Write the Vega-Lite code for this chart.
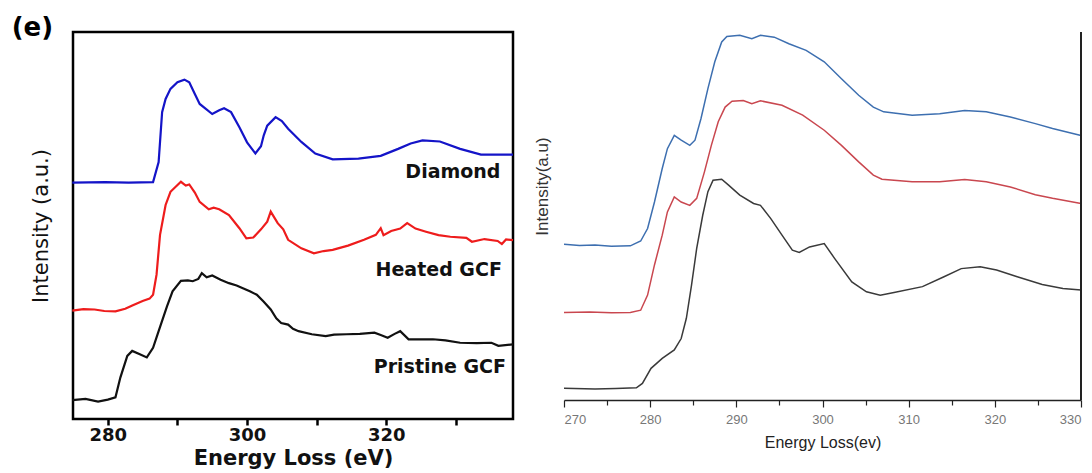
{
  "$schema": "https://vega.github.io/schema/vega-lite/v6.json",
  "background": "white",
  "padding": {"left": 10, "top": 13, "right": 0, "bottom": 0},
  "autosize": {"type": "pad"},
  "bounds": "flush",
  "spacing": 51,
  "config": {"font": "DejaVu Sans", "axis": {"grid": false}},
  "resolve": {"scale": {"x": "independent", "y": "independent", "color": "independent"}},
  "datasets": {
    "left": [
      {"series": "Diamond", "E": 274.9, "I": 61.1}, {"series": "Diamond", "E": 279.6, "I": 61.2}, {"series": "Diamond", "E": 283, "I": 61.1}, {"series": "Diamond", "E": 286.5, "I": 61.2},
      {"series": "Diamond", "E": 287.3, "I": 66.4}, {"series": "Diamond", "E": 287.8, "I": 79.3}, {"series": "Diamond", "E": 288.3, "I": 82.7}, {"series": "Diamond", "E": 289.0, "I": 85.3},
      {"series": "Diamond", "E": 290.0, "I": 87.0}, {"series": "Diamond", "E": 291.0, "I": 87.7}, {"series": "Diamond", "E": 291.7, "I": 87.0}, {"series": "Diamond", "E": 292.5, "I": 84.0},
      {"series": "Diamond", "E": 293.2, "I": 81.4}, {"series": "Diamond", "E": 295.0, "I": 78.8}, {"series": "Diamond", "E": 296.0, "I": 79.8}, {"series": "Diamond", "E": 296.7, "I": 80.3},
      {"series": "Diamond", "E": 297.7, "I": 79.3}, {"series": "Diamond", "E": 298.9, "I": 75.4}, {"series": "Diamond", "E": 300.0, "I": 71.5}, {"series": "Diamond", "E": 301.2, "I": 68.6},
      {"series": "Diamond", "E": 302.0, "I": 70.5}, {"series": "Diamond", "E": 302.4, "I": 73.3}, {"series": "Diamond", "E": 302.9, "I": 75.8}, {"series": "Diamond", "E": 304.1, "I": 78.0},
      {"series": "Diamond", "E": 305.0, "I": 77.0}, {"series": "Diamond", "E": 305.9, "I": 75.0}, {"series": "Diamond", "E": 307.8, "I": 71.6}, {"series": "Diamond", "E": 309.8, "I": 68.6},
      {"series": "Diamond", "E": 312.3, "I": 67.1}, {"series": "Diamond", "E": 316, "I": 67.3}, {"series": "Diamond", "E": 319.2, "I": 68.0}, {"series": "Diamond", "E": 321.7, "I": 69.8},
      {"series": "Diamond", "E": 323.5, "I": 71.2}, {"series": "Diamond", "E": 325.2, "I": 72.0}, {"series": "Diamond", "E": 327.7, "I": 71.7}, {"series": "Diamond", "E": 330.6, "I": 69.8},
      {"series": "Diamond", "E": 333.6, "I": 68.3}, {"series": "Diamond", "E": 338.2, "I": 68.3},
      {"series": "Heated GCF", "E": 274.9, "I": 28.0}, {"series": "Heated GCF", "E": 276.5, "I": 28.4}, {"series": "Heated GCF", "E": 278.1, "I": 28.3}, {"series": "Heated GCF", "E": 279.5, "I": 27.9},
      {"series": "Heated GCF", "E": 281.1, "I": 27.8}, {"series": "Heated GCF", "E": 282.5, "I": 28.5}, {"series": "Heated GCF", "E": 283.6, "I": 29.4}, {"series": "Heated GCF", "E": 285.0, "I": 30.5},
      {"series": "Heated GCF", "E": 286.0, "I": 31.1}, {"series": "Heated GCF", "E": 286.5, "I": 32.1}, {"series": "Heated GCF", "E": 287.0, "I": 37.3}, {"series": "Heated GCF", "E": 287.5, "I": 47.6},
      {"series": "Heated GCF", "E": 288.3, "I": 55.3}, {"series": "Heated GCF", "E": 289.0, "I": 58.7}, {"series": "Heated GCF", "E": 290.5, "I": 61.3}, {"series": "Heated GCF", "E": 291.2, "I": 60.3},
      {"series": "Heated GCF", "E": 291.7, "I": 60.6}, {"series": "Heated GCF", "E": 292.5, "I": 58.5}, {"series": "Heated GCF", "E": 293.2, "I": 56.1}, {"series": "Heated GCF", "E": 294.5, "I": 54.2},
      {"series": "Heated GCF", "E": 295.2, "I": 54.6}, {"series": "Heated GCF", "E": 296.0, "I": 54.2}, {"series": "Heated GCF", "E": 297.4, "I": 52.7}, {"series": "Heated GCF", "E": 298.9, "I": 49.3},
      {"series": "Heated GCF", "E": 299.9, "I": 46.7}, {"series": "Heated GCF", "E": 300.9, "I": 46.9}, {"series": "Heated GCF", "E": 302.0, "I": 49.0}, {"series": "Heated GCF", "E": 302.9, "I": 51.0},
      {"series": "Heated GCF", "E": 303.4, "I": 53.6}, {"series": "Heated GCF", "E": 304.4, "I": 50.6}, {"series": "Heated GCF", "E": 305.2, "I": 49.0}, {"series": "Heated GCF", "E": 305.9, "I": 46.3},
      {"series": "Heated GCF", "E": 307.8, "I": 44.1}, {"series": "Heated GCF", "E": 309.6, "I": 42.8}, {"series": "Heated GCF", "E": 311.0, "I": 43.4}, {"series": "Heated GCF", "E": 312.3, "I": 43.7},
      {"series": "Heated GCF", "E": 314.5, "I": 44.8}, {"series": "Heated GCF", "E": 316.8, "I": 46.3}, {"series": "Heated GCF", "E": 318.5, "I": 47.6}, {"series": "Heated GCF", "E": 319.2, "I": 49.3},
      {"series": "Heated GCF", "E": 319.6, "I": 47.5}, {"series": "Heated GCF", "E": 320.7, "I": 48.6}, {"series": "Heated GCF", "E": 322.0, "I": 49.2}, {"series": "Heated GCF", "E": 323.0, "I": 50.6},
      {"series": "Heated GCF", "E": 324.2, "I": 49.2}, {"series": "Heated GCF", "E": 325.7, "I": 48.4}, {"series": "Heated GCF", "E": 327.5, "I": 47.5}, {"series": "Heated GCF", "E": 329.2, "I": 47.1},
      {"series": "Heated GCF", "E": 331.5, "I": 46.8}, {"series": "Heated GCF", "E": 332.3, "I": 45.8}, {"series": "Heated GCF", "E": 334.1, "I": 46.5}, {"series": "Heated GCF", "E": 336.0, "I": 46.0},
      {"series": "Heated GCF", "E": 336.6, "I": 45.2}, {"series": "Heated GCF", "E": 337.2, "I": 46.4}, {"series": "Heated GCF", "E": 338.2, "I": 46.2},
      {"series": "Pristine GCF", "E": 274.9, "I": 4.9}, {"series": "Pristine GCF", "E": 276.8, "I": 5.2}, {"series": "Pristine GCF", "E": 278.6, "I": 4.5}, {"series": "Pristine GCF", "E": 280.0, "I": 5.0},
      {"series": "Pristine GCF", "E": 281.1, "I": 5.6}, {"series": "Pristine GCF", "E": 281.8, "I": 10.7}, {"series": "Pristine GCF", "E": 282.8, "I": 16.3}, {"series": "Pristine GCF", "E": 283.5, "I": 17.6},
      {"series": "Pristine GCF", "E": 284.6, "I": 16.7}, {"series": "Pristine GCF", "E": 285.6, "I": 15.9}, {"series": "Pristine GCF", "E": 286.5, "I": 18.4}, {"series": "Pristine GCF", "E": 287.3, "I": 22.7},
      {"series": "Pristine GCF", "E": 288.5, "I": 29.1}, {"series": "Pristine GCF", "E": 289.3, "I": 33.0}, {"series": "Pristine GCF", "E": 290.5, "I": 35.7}, {"series": "Pristine GCF", "E": 291.5, "I": 35.8},
      {"series": "Pristine GCF", "E": 292.2, "I": 35.6}, {"series": "Pristine GCF", "E": 293.0, "I": 36.2}, {"series": "Pristine GCF", "E": 293.5, "I": 37.7}, {"series": "Pristine GCF", "E": 294.2, "I": 36.6},
      {"series": "Pristine GCF", "E": 295.0, "I": 37.1}, {"series": "Pristine GCF", "E": 296.2, "I": 36.0}, {"series": "Pristine GCF", "E": 297.4, "I": 35.1}, {"series": "Pristine GCF", "E": 298.5, "I": 34.5},
      {"series": "Pristine GCF", "E": 299.4, "I": 33.8}, {"series": "Pristine GCF", "E": 300.4, "I": 33.0}, {"series": "Pristine GCF", "E": 301.4, "I": 32.1}, {"series": "Pristine GCF", "E": 302.4, "I": 30.3},
      {"series": "Pristine GCF", "E": 303.4, "I": 28.3}, {"series": "Pristine GCF", "E": 304.2, "I": 26.0}, {"series": "Pristine GCF", "E": 304.9, "I": 24.8}, {"series": "Pristine GCF", "E": 305.9, "I": 24.4},
      {"series": "Pristine GCF", "E": 306.6, "I": 23.3}, {"series": "Pristine GCF", "E": 307.4, "I": 22.7}, {"series": "Pristine GCF", "E": 309.3, "I": 21.9}, {"series": "Pristine GCF", "E": 311.3, "I": 21.4},
      {"series": "Pristine GCF", "E": 312.5, "I": 21.8}, {"series": "Pristine GCF", "E": 314.3, "I": 21.9}, {"series": "Pristine GCF", "E": 316.2, "I": 22.0}, {"series": "Pristine GCF", "E": 318.3, "I": 22.3},
      {"series": "Pristine GCF", "E": 319.2, "I": 21.7}, {"series": "Pristine GCF", "E": 320.2, "I": 21.0}, {"series": "Pristine GCF", "E": 321.2, "I": 22.0}, {"series": "Pristine GCF", "E": 322.0, "I": 22.7},
      {"series": "Pristine GCF", "E": 323.2, "I": 20.6}, {"series": "Pristine GCF", "E": 326.7, "I": 20.6}, {"series": "Pristine GCF", "E": 328.5, "I": 20.3}, {"series": "Pristine GCF", "E": 330.6, "I": 19.7},
      {"series": "Pristine GCF", "E": 333.0, "I": 19.6}, {"series": "Pristine GCF", "E": 335.1, "I": 19.7}, {"series": "Pristine GCF", "E": 336.1, "I": 18.9}, {"series": "Pristine GCF", "E": 338.2, "I": 19.3}
    ],
    "leftLabels": [
      {"label": "Diamond", "E": 336.4, "I": 63.8},
      {"label": "Heated GCF", "E": 336.6, "I": 38.5},
      {"label": "Pristine GCF", "E": 337.2, "I": 13.5}
    ],
    "panelTag": [
      {"label": "(e)", "E": 266.2, "I": 101.0}
    ],
    "right": [
      {"series": "upper", "E": 270, "I": 42.3}, {"series": "upper", "E": 271.8, "I": 42.0}, {"series": "upper", "E": 273.6, "I": 42.1}, {"series": "upper", "E": 275.5, "I": 41.8},
      {"series": "upper", "E": 277.7, "I": 41.9}, {"series": "upper", "E": 278.9, "I": 43.2}, {"series": "upper", "E": 279.7, "I": 46.6}, {"series": "upper", "E": 280.5, "I": 53.8},
      {"series": "upper", "E": 281.4, "I": 62.9}, {"series": "upper", "E": 282.0, "I": 68.3}, {"series": "upper", "E": 282.8, "I": 71.9}, {"series": "upper", "E": 283.6, "I": 70.6},
      {"series": "upper", "E": 284.6, "I": 69.2}, {"series": "upper", "E": 285.2, "I": 70.6}, {"series": "upper", "E": 285.9, "I": 76.5}, {"series": "upper", "E": 286.7, "I": 84.6},
      {"series": "upper", "E": 287.5, "I": 91.9}, {"series": "upper", "E": 288.3, "I": 97.3}, {"series": "upper", "E": 288.9, "I": 98.8}, {"series": "upper", "E": 290.4, "I": 99.1},
      {"series": "upper", "E": 291.8, "I": 98.2}, {"series": "upper", "E": 292.8, "I": 99.1}, {"series": "upper", "E": 294.4, "I": 98.6}, {"series": "upper", "E": 296.1, "I": 96.8},
      {"series": "upper", "E": 298.1, "I": 95.0}, {"series": "upper", "E": 300.2, "I": 91.9}, {"series": "upper", "E": 302.2, "I": 87.3}, {"series": "upper", "E": 304.2, "I": 82.8},
      {"series": "upper", "E": 305.9, "I": 79.6}, {"series": "upper", "E": 307.1, "I": 78.3}, {"series": "upper", "E": 310.4, "I": 77.4}, {"series": "upper", "E": 313.6, "I": 77.8},
      {"series": "upper", "E": 316.5, "I": 78.7}, {"series": "upper", "E": 319.0, "I": 78.3}, {"series": "upper", "E": 321.8, "I": 76.9}, {"series": "upper", "E": 324.7, "I": 75.1},
      {"series": "upper", "E": 326.7, "I": 73.8}, {"series": "upper", "E": 330, "I": 71.9},
      {"series": "middle", "E": 270, "I": 23.8}, {"series": "middle", "E": 273, "I": 23.9}, {"series": "middle", "E": 275.5, "I": 23.7}, {"series": "middle", "E": 277.7, "I": 23.8},
      {"series": "middle", "E": 278.9, "I": 24.4}, {"series": "middle", "E": 279.7, "I": 28.5}, {"series": "middle", "E": 280.5, "I": 36.7}, {"series": "middle", "E": 281.4, "I": 44.8},
      {"series": "middle", "E": 282.0, "I": 51.1}, {"series": "middle", "E": 282.8, "I": 55.2}, {"series": "middle", "E": 283.6, "I": 53.8}, {"series": "middle", "E": 284.6, "I": 52.9},
      {"series": "middle", "E": 285.4, "I": 54.8}, {"series": "middle", "E": 286.3, "I": 62.0}, {"series": "middle", "E": 287.1, "I": 69.2}, {"series": "middle", "E": 287.9, "I": 75.6},
      {"series": "middle", "E": 288.7, "I": 79.6}, {"series": "middle", "E": 289.5, "I": 81.2}, {"series": "middle", "E": 290.8, "I": 81.4}, {"series": "middle", "E": 291.8, "I": 80.5},
      {"series": "middle", "E": 292.8, "I": 81.3}, {"series": "middle", "E": 295.3, "I": 80.1}, {"series": "middle", "E": 297.7, "I": 77.4}, {"series": "middle", "E": 300.2, "I": 73.3},
      {"series": "middle", "E": 302.2, "I": 69.2}, {"series": "middle", "E": 304.2, "I": 64.7}, {"series": "middle", "E": 305.9, "I": 61.1}, {"series": "middle", "E": 306.9, "I": 60.0},
      {"series": "middle", "E": 310.4, "I": 59.3}, {"series": "middle", "E": 313.6, "I": 59.3}, {"series": "middle", "E": 316.5, "I": 59.9}, {"series": "middle", "E": 319.0, "I": 59.3},
      {"series": "middle", "E": 321.8, "I": 57.9}, {"series": "middle", "E": 324.7, "I": 55.8}, {"series": "middle", "E": 326.7, "I": 54.8}, {"series": "middle", "E": 330, "I": 53.4},
      {"series": "lower", "E": 270, "I": 3.2}, {"series": "lower", "E": 273.6, "I": 3.0}, {"series": "lower", "E": 276, "I": 3.1}, {"series": "lower", "E": 278.4, "I": 3.3},
      {"series": "lower", "E": 279.1, "I": 4.5}, {"series": "lower", "E": 280.1, "I": 8.6}, {"series": "lower", "E": 281.4, "I": 11.3}, {"series": "lower", "E": 282.8, "I": 13.6},
      {"series": "lower", "E": 283.6, "I": 16.7}, {"series": "lower", "E": 284.2, "I": 22.2}, {"series": "lower", "E": 284.8, "I": 31.2}, {"series": "lower", "E": 285.4, "I": 41.2},
      {"series": "lower", "E": 286.1, "I": 50.2}, {"series": "lower", "E": 286.7, "I": 56.6}, {"series": "lower", "E": 287.3, "I": 59.7}, {"series": "lower", "E": 288.3, "I": 60.0},
      {"series": "lower", "E": 289.1, "I": 58.4}, {"series": "lower", "E": 290.4, "I": 55.7}, {"series": "lower", "E": 292.0, "I": 53.4}, {"series": "lower", "E": 292.8, "I": 52.9},
      {"series": "lower", "E": 294.0, "I": 49.3}, {"series": "lower", "E": 295.3, "I": 44.8}, {"series": "lower", "E": 296.5, "I": 40.7}, {"series": "lower", "E": 297.3, "I": 40.1},
      {"series": "lower", "E": 298.5, "I": 41.6}, {"series": "lower", "E": 300.2, "I": 42.5}, {"series": "lower", "E": 301.4, "I": 38.5}, {"series": "lower", "E": 303.4, "I": 32.1},
      {"series": "lower", "E": 305.1, "I": 29.4}, {"series": "lower", "E": 306.7, "I": 28.5}, {"series": "lower", "E": 308.3, "I": 29.2}, {"series": "lower", "E": 311.6, "I": 30.8},
      {"series": "lower", "E": 314.1, "I": 33.5}, {"series": "lower", "E": 316.1, "I": 35.7}, {"series": "lower", "E": 318.3, "I": 36.2}, {"series": "lower", "E": 320.2, "I": 35.3},
      {"series": "lower", "E": 322.6, "I": 33.5}, {"series": "lower", "E": 325.5, "I": 31.4}, {"series": "lower", "E": 327.9, "I": 30.3}, {"series": "lower", "E": 330, "I": 29.9}
    ],
    "edge": [{"E": 330}]
  },
  "hconcat": [
    {
      "width": 440,
      "height": 387,
      "view": {"stroke": "#000", "strokeWidth": 2.5},
      "layer": [
        {
          "data": {"name": "left"},
          "mark": {"type": "line", "strokeWidth": 2.2},
          "encoding": {
            "x": {"field": "E", "type": "quantitative", "scale": {"domain": [275, 338.2], "nice": false, "zero": false},
              "axis": {"values": [280, 290, 300, 310, 320, 330], "labelExpr": "datum.value % 20 == 0 ? datum.label : ''", "domain": false, "tickColor": "#000", "tickWidth": 2.5, "tickSize": 6, "labelFont": "DejaVu Sans", "labelFontWeight": "bold", "labelFontSize": 18, "labelColor": "#111", "labelPadding": 1, "title": "Energy Loss (eV)", "titleFont": "DejaVu Sans", "titleFontWeight": "bold", "titleFontSize": 21, "titleColor": "#111", "titlePadding": 3}},
            "y": {"field": "I", "type": "quantitative", "scale": {"domain": [0, 100], "nice": false},
              "axis": {"labels": false, "ticks": false, "domain": false, "title": "Intensity (a.u.)", "titleFont": "DejaVu Sans", "titleFontWeight": "normal", "titleFontSize": 21, "titleColor": "#111", "titlePadding": 22}},
            "color": {"field": "series", "type": "nominal", "scale": {"domain": ["Diamond", "Heated GCF", "Pristine GCF"], "range": ["#1414c8", "#ee1c1c", "#111111"]}, "legend": null}
          }
        },
        {
          "data": {"name": "leftLabels"},
          "mark": {"type": "text", "align": "right", "baseline": "middle", "font": "DejaVu Sans", "fontWeight": "bold", "fontSize": 19, "color": "#111"},
          "encoding": {
            "x": {"field": "E", "type": "quantitative"},
            "y": {"field": "I", "type": "quantitative"},
            "text": {"field": "label", "type": "nominal"}
          }
        },
        {
          "data": {"name": "panelTag"},
          "mark": {"type": "text", "align": "left", "baseline": "middle", "font": "DejaVu Sans", "fontWeight": "bold", "fontSize": 26, "color": "#000"},
          "encoding": {
            "x": {"field": "E", "type": "quantitative"},
            "y": {"field": "I", "type": "quantitative"},
            "text": {"field": "label", "type": "nominal"}
          }
        }
      ]
    },
    {
      "width": 517,
      "height": 368,
      "view": {"stroke": null},
      "layer": [
        {
          "data": {"name": "right"},
          "mark": {"type": "line", "strokeWidth": 1.5},
          "encoding": {
            "x": {"field": "E", "type": "quantitative", "scale": {"domain": [270, 330], "nice": false, "zero": false},
              "axis": {"values": [270, 275, 280, 285, 290, 295, 300, 305, 310, 315, 320, 325, 330], "labelExpr": "datum.value % 10 == 0 ? datum.label : ''", "domainColor": "#222", "domainWidth": 1.5, "tickColor": "#222", "tickWidth": 1.2, "tickSize": {"condition": {"test": "datum.value % 10 == 0", "value": 7}, "value": 5}, "labelFont": "Liberation Sans", "labelFontSize": 13, "labelColor": "#777", "labelPadding": 6, "title": "Energy Loss(ev)", "titleFont": "Liberation Sans", "titleFontWeight": "normal", "titleFontSize": 16, "titleColor": "#222", "titlePadding": 8}},
            "y": {"field": "I", "type": "quantitative", "scale": {"domain": [0, 100], "nice": false},
              "axis": {"labels": false, "ticks": false, "domain": false, "title": "Intensity(a.u)", "titleX": -13, "titleY": 154, "titleFont": "Liberation Sans", "titleFontWeight": "normal", "titleFontSize": 17, "titleColor": "#333"}},
            "color": {"field": "series", "type": "nominal", "scale": {"domain": ["upper", "middle", "lower"], "range": ["#3d6fb0", "#c9474f", "#3a3a3a"]}, "legend": null}
          }
        },
        {
          "data": {"name": "edge"},
          "mark": {"type": "rule", "color": "#222", "strokeWidth": 2},
          "encoding": {"x": {"field": "E", "type": "quantitative"}}
        }
      ]
    }
  ]
}
